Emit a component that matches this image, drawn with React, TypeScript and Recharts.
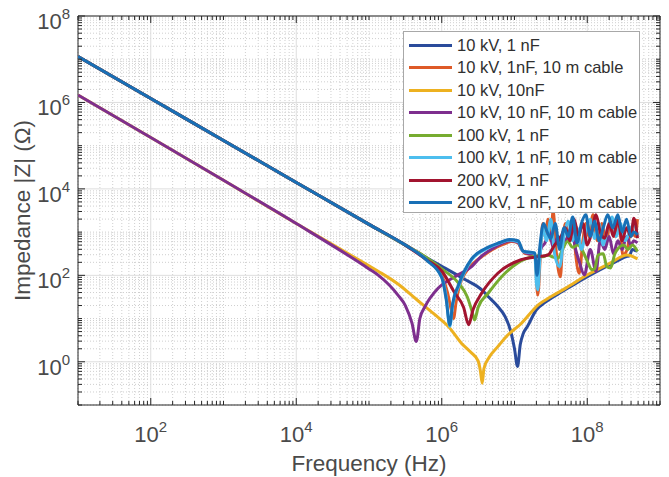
import { LineChart, Line, XAxis, YAxis, CartesianGrid, Legend, ReferenceArea } from "recharts";

type Pt = [number, number];

const FONT = '"Liberation Sans", Arial, Helvetica, sans-serif';
const AXIS = "#262626";
const TEXT = "#4a4a4a";
const PLOT_W = 582;
const PLOT_H = 389;

const seriesNames = [
  "10 kV, 1 nF",
  "10 kV, 1nF, 10 m cable",
  "10 kV, 10nF",
  "10 kV, 10 nF, 10 m cable",
  "100 kV, 1 nF",
  "100 kV, 1 nF, 10 m cable",
  "200 kV, 1 nF",
  "200 kV, 1 nF, 10 m cable",
];
const seriesColors = ["#2A4B9B", "#DE5A28", "#EDB120", "#7E2F8E", "#77AC30", "#4DBEEE", "#A2142F", "#1870B6"];

// capacitive slope shared by all 1 nF cases below ~300 kHz
const lowFreq1nF: Pt[] = [[10, 1.15e7], [100, 1.23e6], [1e3, 1.32e5], [1e4, 1.41e4], [1e5, 1510], [3.16e5, 500]];

const kv10_1nF: Pt[] = [
  ...lowFreq1nF, [6.3e5, 251], [1e6, 162], [2e6, 83], [3.55e6, 46], [4.37e6, 32], [5.9e6, 19], [7.4e6, 11.2],
  [8.9e6, 5], [1e7, 2], [1.1e7, 0.78], [1.2e7, 2.5], [1.32e7, 4.5], [1.51e7, 6.6], [2e7, 16], [2.57e7, 23],
  [3.98e7, 37], [6.31e7, 59], [1e8, 93], [1.58e8, 141], [2.51e8, 209], [3.55e8, 275], [3.8e8, 282],
  [4.17e8, 398], [4.57e8, 372], [4.9e8, 363],
];

const kv10_1nF_cable: Pt[] = [
  ...lowFreq1nF, [6.3e5, 240], [1e6, 100], [1.2e6, 40], [1.35e6, 16], [1.45e6, 10], [1.58e6, 25], [1.78e6, 63],
  [2.09e6, 112], [2.82e6, 200], [3.55e6, 269], [5e6, 398], [7.1e6, 525], [9.1e6, 603], [1.1e7, 575],
  [1.26e7, 398], [1.38e7, 324], [1.9e7, 295], [2.09e7, 35], [2.29e7, 398], [2.45e7, 1585], [2.63e7, 794],
  [2.88e7, 1995], [3.16e7, 631], [3.39e7, 3162], [3.72e7, 398], [4.27e7, 93], [4.57e7, 501], [5e7, 1585],
  [5.62e7, 794], [6.31e7, 1995], [6.92e7, 316], [7.76e7, 112], [8.71e7, 631], [9.55e7, 1585], [1.05e8, 794],
  [1.2e8, 2512], [1.38e8, 631], [1.58e8, 1585], [1.82e8, 562], [2.09e8, 1995], [2.4e8, 794], [2.75e8, 1585],
  [3.09e8, 295], [3.55e8, 398], [3.98e8, 1259], [4.57e8, 794], [4.9e8, 1995],
];

const kv10_10nF: Pt[] = [
  [10, 1.48e6], [100, 1.55e5], [1e3, 1.58e4], [1e4, 1580], [1e5, 166], [1.35e5, 123], [2.5e5, 63], [4.47e5, 28],
  [7.9e5, 12.6], [1.26e6, 6.3], [1.86e6, 2.7], [2.51e6, 1.66], [3.16e6, 1.05], [3.39e6, 0.63], [3.6e6, 0.32],
  [3.8e6, 0.7], [4.47e6, 1.26], [5.9e6, 2.24], [7.9e6, 4], [1.23e7, 7.6], [2.14e7, 21], [3.16e7, 32], [5e7, 50],
  [1.05e8, 107], [2e8, 186], [3.55e8, 295], [4.17e8, 275], [4.9e8, 240],
];

const kv10_10nF_cable: Pt[] = [
  [10, 1.48e6], [100, 1.55e5], [1e3, 1.58e4], [1e4, 1580], [1e5, 141], [1.35e5, 100], [2.5e5, 35], [3.16e5, 20],
  [3.9e5, 7.8], [4.47e5, 2.95], [5e5, 10], [5.9e5, 19], [8.9e5, 50], [1.51e6, 93], [2.57e6, 158], [3.55e6, 282],
  [5e6, 417], [8.9e6, 631], [1.1e7, 589], [1.32e7, 355], [1.58e7, 316], [1.9e7, 302], [2.09e7, 126],
  [2.29e7, 398], [2.63e7, 562], [3.02e7, 1000], [3.39e7, 437], [3.98e7, 794], [4.57e7, 501], [5.25e7, 724],
  [6.03e7, 1259], [6.92e7, 398], [7.76e7, 209], [9.12e7, 102], [1.1e8, 398], [1.32e8, 123], [1.51e8, 631],
  [1.74e8, 398], [2e8, 794], [2.29e8, 316], [2.63e8, 631], [3.02e8, 398], [3.47e8, 794], [3.98e8, 501],
  [4.37e8, 631], [4.9e8, 562],
];

const kv100_1nF: Pt[] = [
  ...lowFreq1nF, [6.3e5, 251], [1e6, 141], [1.7e6, 66], [2.24e6, 32], [2.63e6, 14], [2.82e6, 9.3], [3.16e6, 18],
  [4.37e6, 39], [7.4e6, 112], [1.51e7, 251], [2.09e7, 282], [2.45e7, 269], [2.88e7, 295], [3.39e7, 263],
  [3.98e7, 251], [4.57e7, 398], [5.37e7, 603], [6.31e7, 447], [7.41e7, 501], [8.71e7, 355], [1.02e8, 200],
  [1.15e8, 135], [1.26e8, 141], [1.41e8, 295], [1.66e8, 316], [1.86e8, 158], [2.09e8, 148], [2.4e8, 316],
  [2.69e8, 427], [3.16e8, 501], [3.63e8, 398], [4.17e8, 501], [4.9e8, 355],
];

const kv100_1nF_cable: Pt[] = [
  ...lowFreq1nF, [6.3e5, 224], [1e6, 89], [1.15e6, 32], [1.29e6, 6.6], [1.41e6, 20], [1.7e6, 55], [2.57e6, 229],
  [3.98e6, 398], [6.3e6, 562], [8.5e6, 661], [1.12e7, 603], [1.32e7, 355], [1.9e7, 324], [2e7, 66], [2.09e7, 46],
  [2.24e7, 251], [2.45e7, 1259], [2.75e7, 631], [3.16e7, 1995], [3.55e7, 316], [4.17e7, 158], [4.79e7, 794],
  [5.5e7, 1778], [6.31e7, 631], [7.24e7, 1259], [8.32e7, 398], [9.55e7, 1000], [1.1e8, 1995], [1.26e8, 708],
  [1.45e8, 1585], [1.66e8, 501], [1.91e8, 1259], [2.19e8, 2239], [2.51e8, 794], [2.88e8, 1585], [3.31e8, 631],
  [3.8e8, 1000], [4.37e8, 1585], [4.9e8, 794],
];

const kv200_1nF: Pt[] = [
  ...lowFreq1nF, [6.3e5, 224], [1e6, 126], [1.51e6, 39], [2e6, 18], [2.34e6, 7.2], [2.69e6, 16], [3.55e6, 39],
  [5.9e6, 112], [1.23e7, 229], [2.09e7, 269], [2.88e7, 295], [3.55e7, 501], [4.37e7, 794], [5e7, 1259],
  [5.75e7, 631], [6.61e7, 1995], [7.59e7, 794], [8.71e7, 1585], [1e8, 501], [1.15e8, 1000], [1.32e8, 2512],
  [1.51e8, 1000], [1.74e8, 724], [2e8, 1585], [2.29e8, 794], [2.63e8, 1995], [3.02e8, 631], [3.47e8, 1259],
  [3.98e8, 794], [4.37e8, 2089], [4.9e8, 724],
];

const kv200_1nF_cable: Pt[] = [
  ...lowFreq1nF, [6.3e5, 219], [1e6, 89], [1.15e6, 28], [1.29e6, 7.1], [1.41e6, 22], [1.7e6, 60], [2.57e6, 240],
  [3.98e6, 417], [6.3e6, 575], [8.5e6, 676], [1.12e7, 631], [1.32e7, 363], [1.9e7, 331], [2.04e7, 100],
  [2.24e7, 501], [2.51e7, 1585], [2.82e7, 1000], [3.16e7, 708], [3.63e7, 1585], [4.17e7, 398], [4.79e7, 1259],
  [5.5e7, 794], [6.31e7, 2239], [7.24e7, 562], [8.32e7, 1585], [9.55e7, 2512], [1.1e8, 794], [1.26e8, 1778],
  [1.45e8, 631], [1.66e8, 1259], [1.91e8, 2512], [2.24e8, 1259], [2.63e8, 2512], [3.02e8, 1000], [3.47e8, 1995],
  [3.98e8, 794], [4.37e8, 1000], [4.9e8, 871],
];

const allSeries = [
  kv10_1nF, kv10_1nF_cable, kv10_10nF, kv10_10nF_cable,
  kv100_1nF, kv100_1nF_cable, kv200_1nF, kv200_1nF_cable,
];

// axes
const xDecades = [10, 100, 1e3, 1e4, 1e5, 1e6, 1e7, 1e8];
const yDecades = [0.1, 1, 10, 100, 1e3, 1e4, 1e5, 1e6, 1e7];
const mantissas = [1, 2, 3, 4, 5, 6, 7, 8, 9];
const xMajorTicks = [1e2, 1e4, 1e6, 1e8];
const xTickExp = ["2", "4", "6", "8"];
const yMajorTicks = [1, 1e2, 1e4, 1e6, 1e8];
const yTickExp = ["0", "2", "4", "6", "8"];

const xTicks = [...xDecades.flatMap((d) => mantissas.map((m) => m * d)), 1e9];
const yTicks = [...yDecades.flatMap((d) => mantissas.map((m) => m * d)), 1e8];
const xMinorGrid = xTicks.filter((v) => !xMajorTicks.includes(v));
const yMinorGrid = yTicks.filter((v) => !yMajorTicks.includes(v));

function XTick(props: any) {
  const { x, y, payload } = props;
  const i = xMajorTicks.indexOf(payload.value);
  const len = i >= 0 ? 7 : 4;
  return (
    <g>
      <line x1={x} x2={x} y1={y} y2={y - len} stroke={AXIS} />
      <line x1={x} x2={x} y1={y - PLOT_H} y2={y - PLOT_H + len} stroke={AXIS} />
      {i >= 0 && (
        <text x={x} y={y + 37} textAnchor="middle" fill={TEXT} fontSize={22} fontFamily={FONT}>
          10
          <tspan dy={-10} fontSize={15}>
            {xTickExp[i]}
          </tspan>
        </text>
      )}
    </g>
  );
}

function YTick(props: any) {
  const { x, y, payload } = props;
  const i = yMajorTicks.indexOf(payload.value);
  const len = i >= 0 ? 7 : 4;
  return (
    <g>
      <line x1={x} x2={x + len} y1={y} y2={y} stroke={AXIS} />
      <line x1={x + PLOT_W} x2={x + PLOT_W - len} y1={y} y2={y} stroke={AXIS} />
      {i >= 0 && (
        <text x={x - 8} y={y + 13} textAnchor="end" fill={TEXT} fontSize={22} fontFamily={FONT}>
          10
          <tspan dy={-10} fontSize={15}>
            {yTickExp[i]}
          </tspan>
        </text>
      )}
    </g>
  );
}

function LegendBox() {
  return (
    <div
      style={{
        width: 237,
        height: 182,
        boxSizing: "border-box",
        border: "1px solid #a8a8a8",
        background: "#fff",
        paddingTop: 2,
        fontFamily: FONT,
        overflow: "hidden",
      }}
    >
      {seriesNames.map((name, i) => (
        <div key={name} style={{ display: "flex", alignItems: "center", height: 22.5 }}>
          <span
            style={{
              display: "inline-block",
              flexShrink: 0,
              width: 43,
              height: 3,
              background: seriesColors[i],
              marginLeft: 5,
              marginRight: 5,
            }}
          />
          <span style={{ fontSize: 16.5, color: "#303030", whiteSpace: "nowrap" }}>{name}</span>
        </div>
      ))}
    </div>
  );
}

export default function App() {
  return (
    <div style={{ position: "absolute", left: 0, top: 0, width: 669, height: 477, background: "#fff" }}>
      <LineChart width={669} height={477} margin={{ top: 16, right: 9, left: 0, bottom: 0 }} style={{ fontFamily: FONT }}>
        <CartesianGrid horizontalValues={yMinorGrid} verticalValues={xMinorGrid} stroke="#cfcfcf" strokeDasharray="1 2" />
        <CartesianGrid horizontalValues={yMajorTicks} verticalValues={xMajorTicks} stroke="#dedede" />
        <XAxis
          dataKey="f"
          type="number"
          scale="log"
          domain={[10, 1e9]}
          allowDataOverflow
          ticks={xTicks}
          interval={0}
          height={72}
          axisLine={false}
          tickLine={false}
          tickSize={0}
          tickMargin={0}
          tick={<XTick />}
          label={{ value: "Frequency (Hz)", position: "center", dy: 22, fill: TEXT, fontSize: 22.5 }}
        />
        <YAxis
          type="number"
          scale="log"
          domain={[0.1, 1e8]}
          allowDataOverflow
          ticks={yTicks}
          interval={0}
          width={78}
          axisLine={false}
          tickLine={false}
          tickSize={0}
          tickMargin={0}
          tick={<YTick />}
          label={{ value: "Impedance |Z| (Ω)", angle: -90, position: "center", dx: -17, fill: TEXT, fontSize: 22.5 }}
        />
        {allSeries.map((s, i) => (
          <Line
            key={seriesNames[i]}
            data={s.map(([f, z]) => ({ f, z }))}
            dataKey="z"
            name={seriesNames[i]}
            type="monotoneX"
            stroke={seriesColors[i]}
            strokeWidth={3}
            dot={false}
            isAnimationActive={false}
          />
        ))}
        <ReferenceArea x1={10} x2={1e9} y1={0.1} y2={1e8} fill="none" stroke={AXIS} strokeWidth={1} ifOverflow="visible" />
        <Legend
          layout="vertical"
          align="center"
          verticalAlign="middle"
          wrapperStyle={{ left: 403, top: 31, width: 237, height: 182 }}
          content={() => <LegendBox />}
        />
      </LineChart>
    </div>
  );
}
